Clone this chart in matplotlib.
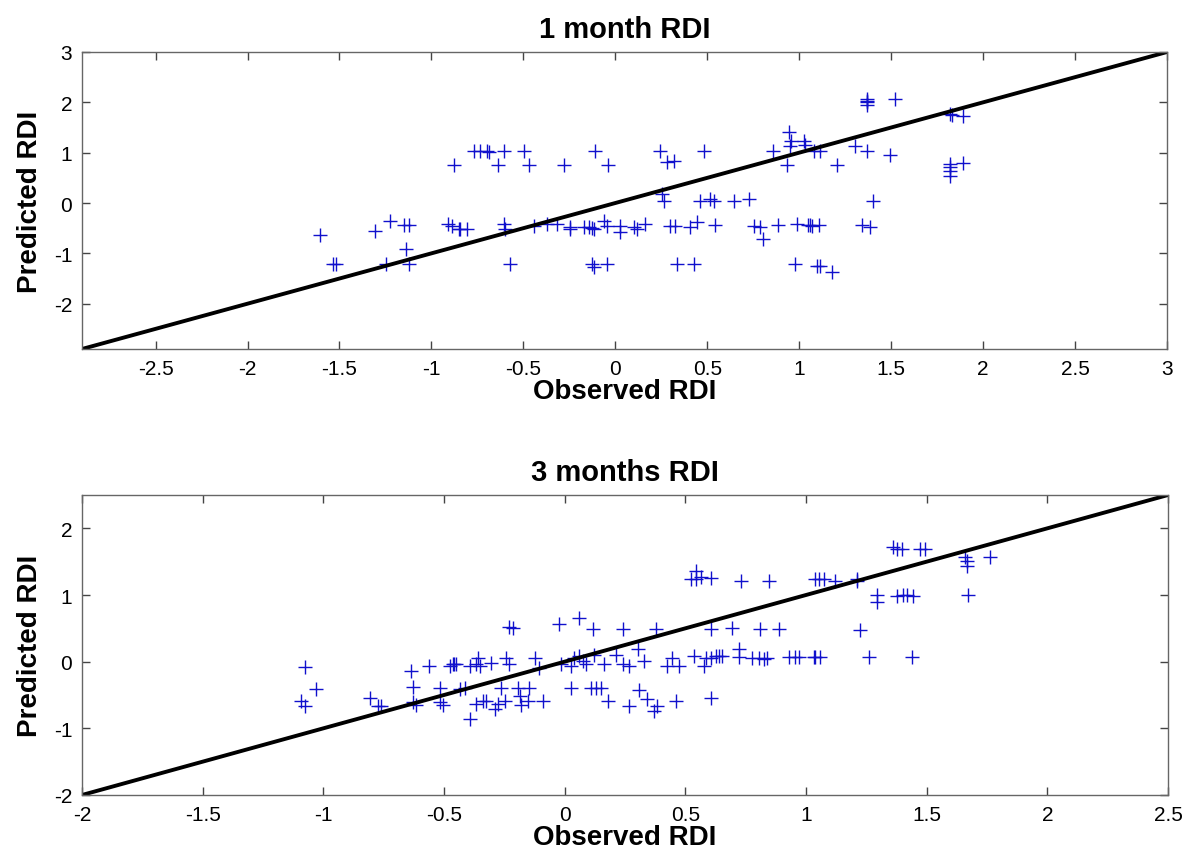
import matplotlib
matplotlib.use('Agg')
import matplotlib.pyplot as plt

plt.rcParams['font.family'] = ['Liberation Sans', 'DejaVu Sans']

# 1 month RDI: observed / predicted
obs1 = [-1.607, -1.536, -1.518, -1.308, -1.227, -1.245, -1.147, -1.123, -1.136, -1.123,
        -0.909, -0.888, -0.852, -0.879,
        -0.77, -0.734, -0.697, -0.689, -0.607, -0.64, -0.498, -0.471, -0.281, -0.109, -0.042,
        0.245, 0.281, 0.317, 0.48, 0.86, 0.933, 0.947, 0.95, 0.955, 1.024, 1.08,
        0.254, 0.263, 0.462, 0.516, 0.534, 0.643, 0.725,
        -0.842, -0.806, -0.607, -0.598, -0.571, -0.444, -0.371, -0.317, -0.245, -0.245,
        -0.172, -0.145, -0.127, -0.118, -0.063, -0.045, 0.027, 0.027, 0.1, 0.118, 0.163,
        -0.127, -0.118, -0.045, 0.299, 0.326, 0.335, 0.426, 0.408, 0.444, 0.543,
        0.752, 0.788, 0.803, 0.887, 0.978, 0.987, 1.05, 1.068, 1.096,
        1.368, 1.368, 1.368, 1.368, 1.522, 1.82, 1.83, 1.89,
        1.03, 1.114, 1.304, 1.368, 1.495, 1.205,
        1.82, 1.82, 1.82, 1.82, 1.89, 1.404,
        1.06, 1.105, 1.34, 1.386, 1.114, 1.181]
pred1 = [-0.64, -1.21, -1.21, -0.55, -0.35, -1.21, -0.44, -0.44, -0.91, -1.21,
         -0.42, -0.45, -0.52, 0.755,
         1.04, 1.04, 1.04, 1.01, 1.04, 0.755, 1.04, 0.755, 0.755, 1.04, 0.755,
         1.04, 0.81, 0.84, 1.04, 1.04, 0.755, 1.405, 1.14, 1.24, 1.24, 1.04,
         0.18, 0.05, 0.05, 0.08, 0.05, 0.05, 0.08,
         -0.52, -0.52, -0.42, -0.52, -1.21, -0.45, -0.42, -0.42, -0.48, -0.52,
         -0.48, -0.48, -0.5, -0.52, -0.35, -0.45, -0.45, -0.58, -0.48, -0.52, -0.42,
         -1.21, -1.28, -1.21, -0.45, -0.45, -1.21, -1.21, -0.48, -0.37, -0.44,
         -0.45, -0.48, -0.72, -0.44, -1.21, -0.42, -0.44, -0.45, -1.25,
         2.07, 2.03, 2.0, 1.95, 2.07, 1.77, 1.74, 1.72,
         1.15, 1.04, 1.14, 1.04, 0.955, 0.755,
         0.775, 0.71, 0.64, 0.53, 0.79, 0.05,
         -0.44, -0.44, -0.44, -0.47, -1.25, -1.38]

# 3 months RDI: observed / predicted
obs3 = [-1.076, -1.03, -1.093, -1.076, -0.807, -0.773, -0.759, -0.635, -0.562, -0.628,
        -0.628, -0.614, -0.518, -0.518, -0.504, -0.476, -0.46, -0.435,
        -0.463, -0.449, -0.394, -0.366, -0.36, -0.352, -0.304, -0.242, -0.229,
        -0.229, -0.215, -0.125, -0.105, -0.414, -0.394, -0.366, -0.339, -0.325,
        -0.29, -0.277, -0.263, -0.249, -0.194, -0.187, -0.18, -0.153, -0.146, -0.091,
        -0.022, 0.06, 0.116, 0.24, 0.378,
        -0.015, 0.026, 0.04, 0.06, 0.074, 0.088, 0.123, 0.164, 0.212, 0.24, 0.267,
        0.302, 0.33, 0.026, 0.109, 0.13, 0.15, 0.178, 0.267, 0.309,
        0.343, 0.371, 0.384, 0.46, 0.605,
        0.426, 0.446, 0.474, 0.536, 0.577, 0.584, 0.605, 0.626, 0.64, 0.653,
        0.722, 0.722, 0.777, 0.805, 0.825, 0.839, 0.928, 0.956, 1.039,
        0.522, 0.543, 0.543, 0.564, 0.605, 0.729, 0.846, 1.039,
        0.605, 0.694, 0.811, 0.887,
        0.97, 1.032, 1.06, 1.259, 1.438, 1.222,
        1.052, 1.073, 1.121, 1.21, 1.21, 1.293, 1.293,
        1.376, 1.404, 1.417, 1.445, 1.672,
        1.362, 1.376, 1.397, 1.473, 1.493,
        1.659, 1.666, 1.666, 1.762]
pred3 = [-0.075, -0.41, -0.585, -0.66, -0.55, -0.66, -0.66, -0.135, -0.06, -0.385,
         -0.61, -0.65, -0.39, -0.61, -0.65, -0.06, -0.04, -0.41,
         -0.035, -0.035, -0.06, -0.035, 0.06, -0.06, -0.025, 0.06, -0.035,
         0.515, 0.5, 0.06, -0.09, -0.39, -0.86, -0.635, -0.585, -0.585,
         -0.71, -0.635, -0.39, -0.585, -0.4, -0.52, -0.65, -0.585, -0.39, -0.585,
         0.565, 0.65, 0.49, 0.49, 0.49,
         -0.035, -0.06, 0.06, 0.08, 0.01, -0.035, 0.1, -0.035, 0.1, -0.035, -0.06,
         0.19, 0.015, -0.39, -0.39, -0.39, -0.39, -0.585, -0.66, -0.43,
         -0.56, -0.74, -0.66, -0.585, -0.55,
         -0.06, 0.06, -0.06, 0.08, -0.06, 0.06, 0.06, 0.08, 0.08, 0.08,
         0.19, 0.065, 0.06, 0.06, 0.04, 0.06, 0.07, 0.07, 0.07,
         1.24, 1.365, 1.24, 1.265, 1.25, 1.215, 1.215, 1.24,
         0.49, 0.5, 0.49, 0.49,
         0.065, 0.065, 0.065, 0.065, 0.065, 0.48,
         1.24, 1.24, 1.215, 1.215, 1.24, 1.0, 0.89,
         0.99, 1.0, 1.0, 0.985, 1.0,
         1.715, 1.69, 1.69, 1.69, 1.69,
         1.565, 1.515, 1.44, 1.565]

panels = [
    ('1 month RDI', obs1, pred1, (-2.9, 3), [-2.5, -2, -1.5, -1, -0.5, 0, 0.5, 1, 1.5, 2, 2.5, 3],
     [-2, -1, 0, 1, 2, 3]),
    ('3 months RDI', obs3, pred3, (-2, 2.5), [-2, -1.5, -1, -0.5, 0, 0.5, 1, 1.5, 2, 2.5],
     [-2, -1, 0, 1, 2]),
]

fig = plt.figure(figsize=(11.89, 8.53), dpi=100)
boxes = [[82 / 1189, 1 - 350 / 853, 1085 / 1189, 297 / 853],
         [82 / 1189, 1 - 796 / 853, 1086 / 1189, 300 / 853]]

for box, (title, obs, pred, lim, xt, yt) in zip(boxes, panels):
    ax = fig.add_axes(box)
    ax.plot(obs, pred, '+', color='#1010cc', markersize=10, markeredgewidth=1.0)
    ax.plot(lim, lim, color='black', linewidth=2.8)
    ax.set_xlim(lim)
    ax.set_ylim(lim)
    ax.set_xticks(xt)
    ax.set_yticks(yt)
    ax.set_xticklabels([('%g' % v) for v in xt])
    ax.set_yticklabels([('%g' % v) for v in yt])
    ax.tick_params(direction='in', length=6, width=1, colors='#444444',
                   labelcolor='black', labelsize=15, top=True, right=True, pad=7)
    for s in ax.spines.values():
        s.set_color('#666666')
        s.set_linewidth(1)
    ax.set_title(title, fontsize=21, fontweight='bold', pad=11)
    ax.set_xlabel('Observed RDI', fontsize=20, fontweight='bold', labelpad=0)
    ax.set_ylabel('Predicted RDI', fontsize=20, fontweight='bold', labelpad=8)

fig.savefig('out.png', dpi=100)
